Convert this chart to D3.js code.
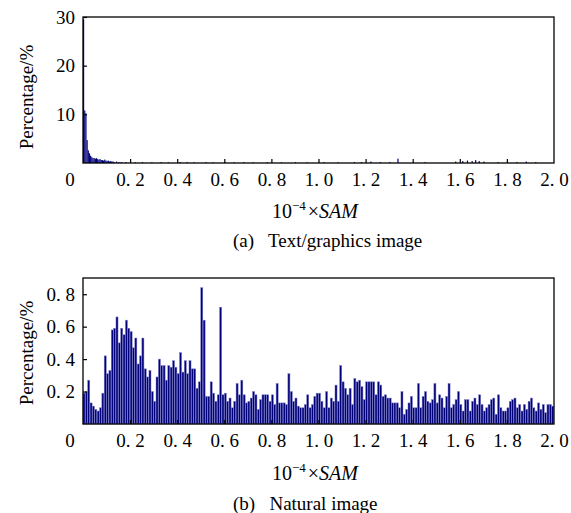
<!DOCTYPE html>
<html>
<head>
<meta charset="utf-8">
<script src="https://cdn.jsdelivr.net/npm/d3@7"></script>
<style>
  body { margin: 0; background: #fff; }
  text { font-family: "Liberation Serif", "Times New Roman", serif; }
</style>
</head>
<body>
<div id="chart"></div>
<script>
// (a) text/graphics image: bins of 0.005, given by left edge
var topSam = [0, 0.005, 0.01, 0.015, 0.02, 0.025, 0.03, 0.035, 0.04, 0.045,
  0.05, 0.055, 0.06, 0.065, 0.07, 0.075, 0.08, 0.085, 0.09, 0.095,
  0.1, 0.105, 0.11, 0.115, 0.12, 0.125, 0.13, 0.14, 0.15, 0.16,
  0.18, 0.22, 0.25, 0.29, 0.33, 0.36, 0.41, 0.44, 0.47, 0.52,
  0.55, 0.6, 0.64, 0.68, 0.72, 0.78, 0.84, 0.9, 0.95, 1.02,
  1.08, 1.15, 1.18, 1.22, 1.26, 1.3, 1.335, 1.45, 1.58, 1.61,
  1.63, 1.65, 1.665, 1.68, 1.7, 1.76, 1.8, 1.84, 1.88, 1.92]
var topPct = [29.5, 10.8, 10.2, 4.7, 2.6, 2.0, 1.5, 1.2, 1.0, 1.0,
  0.9, 1.0, 0.8, 0.7, 0.8, 0.6, 0.6, 0.5, 0.7, 0.5,
  0.4, 0.5, 0.3, 0.4, 0.3, 0.3, 0.2, 0.3, 0.2, 0.2,
  0.2, 0.15, 0.2, 0.15, 0.2, 0.15, 0.2, 0.2, 0.15, 0.2,
  0.15, 0.2, 0.15, 0.2, 0.15, 0.2, 0.15, 0.2, 0.15, 0.2,
  0.15, 0.2, 0.2, 0.3, 0.2, 0.2, 0.9, 0.2, 0.3, 0.4,
  0.5, 0.4, 0.6, 0.4, 0.3, 0.2, 0.3, 0.2, 0.3, 0.2]

// (b) natural image: 200 bins of 0.01
var botPct = [
  0.19, 0.2, 0.27, 0.13, 0.11, 0.09, 0.08, 0.1, 0.19, 0.42,
  0.31, 0.33, 0.58, 0.59, 0.66, 0.5, 0.59, 0.55, 0.64, 0.59,
  0.57, 0.47, 0.53, 0.37, 0.42, 0.53, 0.34, 0.29, 0.33, 0.2,
  0.14, 0.29, 0.4, 0.36, 0.36, 0.27, 0.36, 0.35, 0.39, 0.35,
  0.31, 0.44, 0.32, 0.39, 0.31, 0.39, 0.34, 0.34, 0.22, 0.26,
  0.84, 0.64, 0.17, 0.17, 0.26, 0.19, 0.14, 0.18, 0.72, 0.18,
  0.19, 0.14, 0.16, 0.1, 0.14, 0.25, 0.18, 0.27, 0.18, 0.13,
  0.14, 0.16, 0.2, 0.18, 0.09, 0.15, 0.18, 0.18, 0.18, 0.14,
  0.18, 0.12, 0.25, 0.13, 0.13, 0.13, 0.12, 0.31, 0.2, 0.14,
  0.16, 0.11, 0.1, 0.1, 0.12, 0.18, 0.1, 0.12, 0.17, 0.19,
  0.19, 0.14, 0.1, 0.2, 0.1, 0.16, 0.14, 0.24, 0.14, 0.36,
  0.26, 0.22, 0.18, 0.22, 0.12, 0.28, 0.26, 0.27, 0.23, 0.15,
  0.26, 0.26, 0.26, 0.26, 0.18, 0.26, 0.24, 0.17, 0.18, 0.16,
  0.16, 0.13, 0.13, 0.13, 0.1, 0.2, 0.06, 0.09, 0.13, 0.17,
  0.1, 0.1, 0.25, 0.1, 0.17, 0.2, 0.14, 0.13, 0.15, 0.25,
  0.13, 0.18, 0.16, 0.1, 0.17, 0.25, 0.1, 0.12, 0.15, 0.2,
  0.12, 0.08, 0.15, 0.15, 0.08, 0.14, 0.16, 0.12, 0.18, 0.12,
  0.08, 0.1, 0.12, 0.15, 0.16, 0.06, 0.18, 0.1, 0.08, 0.08,
  0.1, 0.14, 0.15, 0.16, 0.1, 0.12, 0.08, 0.12, 0.09, 0.14,
  0.16, 0.1, 0.08, 0.13, 0.09, 0.12, 0.07, 0.12, 0.12, 0.11]
var botBin = 0.01
var topBin = 0.005

var xTicks = [0.2, 0.4, 0.6, 0.8, 1.0, 1.2, 1.4, 1.6, 1.8, 2.0]
var xTickLabels = ["0. 2", "0. 4", "0. 6", "0. 8", "1. 0", "1. 2", "1. 4", "1. 6", "1. 8", "2. 0"]
var topYTicks = [10, 20, 30]
var topYLabels = ["10", "20", "30"]
var botYTicks = [0.2, 0.4, 0.6, 0.8]
var botYLabels = ["0. 2", "0. 4", "0. 6", "0. 8"]

var svg = d3.select("#chart")
    .append("svg")
        .attr("width", 571)
        .attr("height", 513)

var x = d3.scaleLinear()
    .domain([0, 2])
    .range([83, 554])

function drawPanel(opts) {
    var y = d3.scaleLinear()
        .domain(opts.yDomain)
        .range([opts.bottom, opts.top])

    var g = svg.append("g")

    // bars
    g.append("g")
        .selectAll("rect")
        .data(opts.bars)
        .join("rect")
            .attr("x", function(d) { return x(d.sam) })
            .attr("y", function(d) { return y(d.v) })
            .attr("width", function(d) { return Math.max(x(d.sam + opts.bin) - x(d.sam) - opts.gap, 0.8) })
            .attr("height", function(d) { return y(0) - y(d.v) })
            .attr("fill", "#000078")
            .attr("stroke", opts.edge)
            .attr("stroke-width", 0.5)

    // x axis, ticks pointing inward
    var xa = g.append("g")
        .attr("transform", "translate(0," + opts.bottom + ")")
        .call(d3.axisBottom(x)
            .tickValues(xTicks)
            .tickSize(-4)
            .tickPadding(10)
            .tickFormat(function(d, i) { return xTickLabels[i] }))
    xa.select(".domain").remove()
    xa.selectAll("line").attr("stroke", "#000").attr("stroke-width", 1.2)
    xa.selectAll("text")
        .style("font-family", "Liberation Serif, serif")
        .style("font-size", "19px")
        .attr("fill", "#000")
    xa.selectAll(".tick").filter(function(d) { return d === 2.0 }).select("line").remove()

    // y axis
    var ya = g.append("g")
        .attr("transform", "translate(83,0)")
        .call(d3.axisLeft(y)
            .tickValues(opts.yTicks)
            .tickSize(-4)
            .tickPadding(8)
            .tickFormat(function(d, i) { return opts.yLabels[i] }))
    ya.select(".domain").remove()
    ya.selectAll("line").attr("stroke", "#000").attr("stroke-width", 1.2)
    ya.selectAll("text")
        .style("font-family", "Liberation Serif, serif")
        .style("font-size", "19px")
        .attr("fill", "#000")

    // corner zero
    g.append("text")
        .attr("x", 70)
        .attr("y", opts.bottom + 23)
        .attr("text-anchor", "middle")
        .style("font-size", "19px")
        .text("0")

    // frame
    g.append("rect")
        .attr("x", 83)
        .attr("y", opts.top)
        .attr("width", 554 - 83)
        .attr("height", opts.bottom - opts.top)
        .attr("fill", "none")
        .attr("stroke", "#000")
        .attr("stroke-width", 1.3)

    // y title
    g.append("text")
        .attr("transform", "translate(33," + opts.yTitleY + ") rotate(-90)")
        .attr("text-anchor", "middle")
        .style("font-size", "19px")
        .text("Percentage/%")

    // x title
    var xt = g.append("text")
        .attr("x", 315)
        .attr("y", opts.xTitleY)
        .attr("text-anchor", "middle")
        .style("font-size", "20px")
    xt.append("tspan").text("10")
    xt.append("tspan").attr("dy", -8).style("font-size", "13px").text("\u22124")
    xt.append("tspan").attr("dy", 8).attr("dx", 2).text("\u00d7")
    xt.append("tspan").style("font-style", "italic").text("SAM")

    // caption
    g.append("text")
        .attr("x", 233)
        .attr("y", opts.captionY)
        .attr("xml:space", "preserve")
        .style("white-space", "pre")
        .style("font-size", "19px")
        .text(opts.caption)
}

var topBars = topSam.map(function(s, i) { return { sam: s, v: topPct[i] } })
var botBars = botPct.map(function(v, i) { return { sam: i * botBin, v: v } })

drawPanel({
    top: 17, bottom: 163, yDomain: [0, 30],
    yTicks: topYTicks, yLabels: topYLabels,
    bars: topBars, bin: topBin, gap: 0, edge: "none",
    yTitleY: 97, xTitleY: 218, captionY: 247,
    caption: "(a)   Text/graphics image"
})

drawPanel({
    top: 278, bottom: 424, yDomain: [0, 0.9],
    yTicks: botYTicks, yLabels: botYLabels,
    bars: botBars, bin: botBin, gap: 0.3, edge: "#8080cc",
    yTitleY: 353, xTitleY: 480, captionY: 510,
    caption: "(b)   Natural image"
})
</script>
</body>
</html>
